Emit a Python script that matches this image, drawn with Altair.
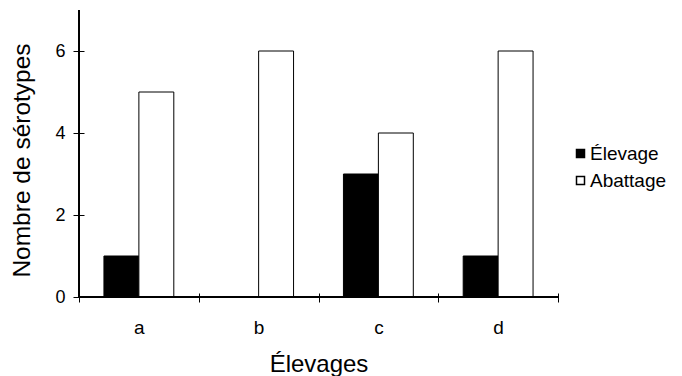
import altair as alt
import pandas as pd

elevages = ["a", "b", "c", "d"]
series = ["Élevage", "Abattage"]
elevage_vals = [1, 0, 3, 1]
abattage_vals = [5, 6, 4, 6]
y_ticks = [0, 2, 4, 6]

rows = []
for i, e in enumerate(elevages):
    rows.append({"elevage": e, "serie": series[0], "n": elevage_vals[i]})
    rows.append({"elevage": e, "serie": series[1], "n": abattage_vals[i]})
df = pd.DataFrame(rows)

W, H = 479, 287
FONT = "Liberation Sans"

bars = alt.Chart(df).mark_bar(stroke="black", strokeWidth=1).encode(
    x=alt.X(
        "elevage:N",
        sort=elevages,
        scale=alt.Scale(paddingInner=0, paddingOuter=0),
        axis=alt.Axis(
            title="Élevages",
            labelAngle=0,
            tickBand="extent",
            domain=False,
            tickSize=9,
            offset=-4,
            tickColor="black",
            labelPadding=16,
            labelFontSize=19,
            titleFontSize=24,
            titlePadding=15,
            titleFontWeight="normal",
        ),
    ),
    xOffset=alt.XOffset(
        "serie:N",
        sort=series,
        scale=alt.Scale(domain=series, paddingInner=0, paddingOuter=0.714),
    ),
    y=alt.Y(
        "n:Q",
        scale=alt.Scale(domain=[0, 7], nice=False),
        axis=alt.Axis(
            title="Nombre de sérotypes",
            values=y_ticks,
            grid=False,
            domain=False,
            tickSize=11,
            offset=-5,
            tickColor="black",
            labelPadding=8,
            labelFontSize=18,
            titleFontSize=24.5,
            titlePadding=20,
            titleY=150,
            titleFontWeight="normal",
        ),
    ),
    color=alt.Color(
        "serie:N",
        sort=series,
        scale=alt.Scale(domain=series, range=["black", "white"]),
        legend=alt.Legend(
            title=None,
            orient="none",
            legendX=492,
            legendY=134,
            symbolType="square",
            symbolSize=64,
            symbolStrokeColor="black",
            symbolStrokeWidth=1.5,
            symbolOpacity=1,
            labelFontSize=19,
            labelOffset=0,
            rowPadding=7,
            padding=0,
        ),
    ),
)

yline = alt.Chart(df).mark_rule(color="black", strokeWidth=1).encode(
    x=alt.value(0), y=alt.value(0), y2=alt.value(H)
)
xline = alt.Chart(df).mark_rule(color="black", strokeWidth=1).encode(
    y=alt.value(H), x=alt.value(0), x2=alt.value(W)
)

chart = (
    alt.layer(bars, yline, xline)
    .properties(
        width=W,
        height=H,
        autosize=alt.AutoSizeParams(type="none"),
        padding={"left": 79, "top": 10, "right": 124, "bottom": 79},
        background="white",
    )
    .configure_view(stroke=None)
    .configure_axis(
        labelFont=FONT, titleFont=FONT, labelColor="black", titleColor="black"
    )
    .configure_legend(labelFont=FONT, labelColor="black")
)

chart.save("out.html", embed_options={"renderer": "svg", "actions": False})
